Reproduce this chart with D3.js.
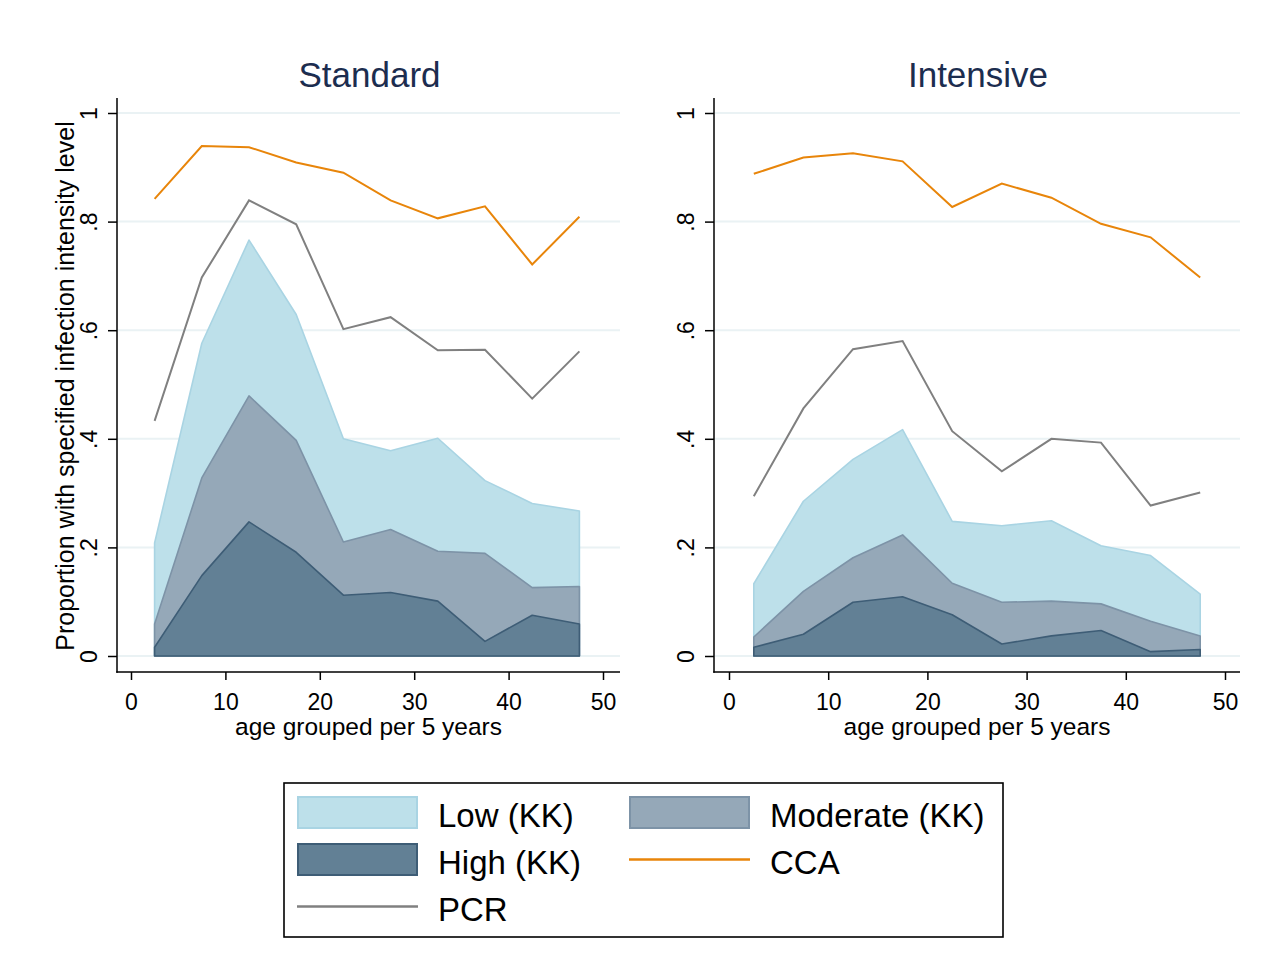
<!DOCTYPE html>
<html>
<head>
<meta charset="utf-8">
<script src="https://cdn.jsdelivr.net/npm/d3@7"></script>
<style>
  body { margin: 0; background: #fff; }
  svg text { font-family: "Liberation Sans", Arial, sans-serif; }
</style>
</head>
<body>
<div id="chart"></div>
<script>
// age group mid points (5-year groups)
const ageMid = [2.5, 7.5, 12.5, 17.5, 22.5, 27.5, 32.5, 37.5, 42.5, 47.5];
const xTicks = [0, 10, 20, 30, 40, 50];
const yTicks = [0, 0.2, 0.4, 0.6, 0.8, 1];

// Standard arm
const stdLow = [0.208, 0.576, 0.766, 0.629, 0.400, 0.378, 0.401, 0.323, 0.281, 0.267];
const stdModerate = [0.059, 0.328, 0.479, 0.397, 0.210, 0.233, 0.193, 0.189, 0.126, 0.128];
const stdHigh = [0.016, 0.148, 0.247, 0.191, 0.112, 0.117, 0.101, 0.027, 0.075, 0.059];
const stdCCA = [0.842, 0.939, 0.937, 0.909, 0.890, 0.839, 0.806, 0.828, 0.721, 0.809];
const stdPCR = [0.433, 0.697, 0.839, 0.795, 0.602, 0.624, 0.563, 0.564, 0.474, 0.561];

// Intensive arm
const intLow = [0.133, 0.285, 0.362, 0.417, 0.248, 0.240, 0.249, 0.203, 0.185, 0.114];
const intModerate = [0.035, 0.119, 0.181, 0.223, 0.134, 0.099, 0.101, 0.096, 0.064, 0.037];
const intHigh = [0.016, 0.040, 0.099, 0.109, 0.076, 0.022, 0.037, 0.047, 0.008, 0.012];
const intCCA = [0.888, 0.918, 0.926, 0.911, 0.827, 0.870, 0.844, 0.796, 0.771, 0.697];
const intPCR = [0.294, 0.456, 0.565, 0.580, 0.414, 0.340, 0.400, 0.393, 0.277, 0.301];

const colLow = "#bde0ea", colLowEdge = "#a9d4e3";
const colMod = "#95a8b8", colModEdge = "#7d93a7";
const colHigh = "#628095", colHighEdge = "#3e5d76";
const colCCA = "#e8850a";
const colPCR = "#808080";
const gridCol = "#eaf2f4";

const svg = d3.select("#chart").append("svg")
  .attr("width", 1286)
  .attr("height", 965);

const panels = [
  { title: "Standard", axisX: 117, x0: 131, x1: 603, right: 620,
    low: stdLow, mod: stdModerate, high: stdHigh, cca: stdCCA, pcr: stdPCR },
  { title: "Intensive", axisX: 714, x0: 729, x1: 1225, right: 1240,
    low: intLow, mod: intModerate, high: intHigh, cca: intCCA, pcr: intPCR }
];

const axisY = 672, axisTop = 98;
const fmt = d => d === 0 ? "0" : d === 1 ? "1" : String(+d.toFixed(1)).replace("0.", ".");

panels.forEach(p => {
  const x = d3.scaleLinear().domain([0, 50]).range([p.x0, p.x1]);
  const y = d3.scaleLinear().domain([0, 1]).range([656, 113]);
  const g = svg.append("g");

  // grid
  g.selectAll("line.grid")
    .data(yTicks)
    .enter()
    .append("line")
    .attr("x1", p.axisX + 1).attr("x2", p.right)
    .attr("y1", d => y(d)).attr("y2", d => y(d))
    .attr("stroke", gridCol).attr("stroke-width", 2);

  // areas, drawn from 0 each, overlaid
  const area = d3.area()
    .x((d, i) => x(ageMid[i]))
    .y0(y(0))
    .y1(d => y(d));
  [[p.low, colLow, colLowEdge], [p.mod, colMod, colModEdge], [p.high, colHigh, colHighEdge]]
    .forEach(([vals, fill, edge]) => {
      g.append("path")
        .datum(vals)
        .attr("d", area)
        .attr("fill", fill)
        .attr("stroke", edge)
        .attr("stroke-width", 1.6)
        .attr("stroke-linejoin", "round");
    });

  const line = d3.line()
    .x((d, i) => x(ageMid[i]))
    .y(d => y(d));
  g.append("path").datum(p.pcr).attr("d", line)
    .attr("fill", "none").attr("stroke", colPCR).attr("stroke-width", 2);
  g.append("path").datum(p.cca).attr("d", line)
    .attr("fill", "none").attr("stroke", colCCA).attr("stroke-width", 2);

  // y axis
  const yAxis = g.append("g")
    .attr("transform", `translate(${p.axisX},0)`)
    .call(d3.axisLeft(y).tickValues(yTicks).tickFormat(fmt).tickSize(9).tickSizeOuter(0));
  yAxis.select(".domain").remove();
  yAxis.selectAll(".tick line").attr("stroke", "#000").attr("stroke-width", 1.5);
  yAxis.selectAll(".tick text")
    .attr("x", null).attr("dy", null)
    .attr("transform", "translate(-20,0) rotate(-90)")
    .attr("text-anchor", "middle")
    .style("font-size", "23px")
    .attr("fill", "#000");

  // x axis
  const xAxis = g.append("g")
    .attr("transform", `translate(0,${axisY})`)
    .call(d3.axisBottom(x).tickValues(xTicks).tickFormat(d3.format("d")).tickSize(8).tickSizeOuter(0));
  xAxis.select(".domain").remove();
  xAxis.selectAll(".tick line").attr("stroke", "#000").attr("stroke-width", 1.5);
  xAxis.selectAll(".tick text")
    .attr("y", 38).attr("dy", null)
    .style("font-size", "23px")
    .attr("fill", "#000");

  // axis lines
  g.append("line")
    .attr("x1", p.axisX).attr("x2", p.axisX)
    .attr("y1", axisTop).attr("y2", axisY + 0.75)
    .attr("stroke", "#000").attr("stroke-width", 1.5);
  g.append("line")
    .attr("x1", p.axisX - 0.75).attr("x2", p.right)
    .attr("y1", axisY).attr("y2", axisY)
    .attr("stroke", "#000").attr("stroke-width", 1.5);

  // titles
  const cx = (p.axisX + p.right) / 2 + 1;
  g.append("text")
    .attr("x", cx).attr("y", 87)
    .attr("text-anchor", "middle")
    .style("font-size", "35px")
    .attr("fill", "#1c2d4f")
    .text(p.title);
  g.append("text")
    .attr("x", cx - 1).attr("y", 735)
    .attr("text-anchor", "middle")
    .style("font-size", "24.5px")
    .attr("fill", "#000")
    .text("age grouped per 5 years");
});

// y title
svg.append("text")
  .attr("transform", "translate(74,386) rotate(-90)")
  .attr("text-anchor", "middle")
  .style("font-size", "25px")
  .attr("fill", "#000")
  .text("Proportion with specified infection intensity level");

// legend
const legend = svg.append("g");
legend.append("rect")
  .attr("x", 284).attr("y", 783)
  .attr("width", 719).attr("height", 154)
  .attr("fill", "#fff").attr("stroke", "#000").attr("stroke-width", 1.6);

const legendItems = [
  { label: "Low (KK)", type: "box", fill: colLow, edge: colLowEdge, col: 0, row: 0 },
  { label: "Moderate (KK)", type: "box", fill: colMod, edge: colModEdge, col: 1, row: 0 },
  { label: "High (KK)", type: "box", fill: colHigh, edge: colHighEdge, col: 0, row: 1 },
  { label: "CCA", type: "line", stroke: colCCA, col: 1, row: 1 },
  { label: "PCR", type: "line", stroke: colPCR, col: 0, row: 2 }
];

const item = legend.selectAll("g.item")
  .data(legendItems)
  .enter()
  .append("g")
  .attr("transform", d => `translate(${d.col === 0 ? 297 : 629},${796 + d.row * 47})`);

item.filter(d => d.type === "box").append("rect")
  .attr("x", 1).attr("y", 1)
  .attr("width", 119).attr("height", 31)
  .attr("fill", d => d.fill)
  .attr("stroke", d => d.edge)
  .attr("stroke-width", 2);

item.filter(d => d.type === "line").append("line")
  .attr("x1", 0).attr("x2", 121)
  .attr("y1", 16.5).attr("y2", 16.5)
  .attr("stroke", d => d.stroke)
  .attr("stroke-width", 2.5);

item.append("text")
  .attr("x", 141).attr("y", 31)
  .style("font-size", "33px")
  .attr("fill", "#000")
  .text(d => d.label);
</script>
</body>
</html>
